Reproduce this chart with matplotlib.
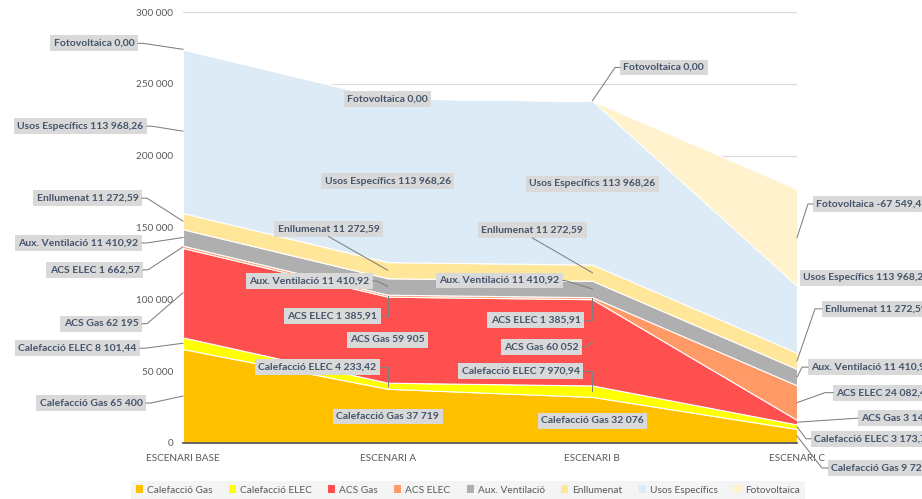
import numpy as np
import matplotlib
matplotlib.use("Agg")
import matplotlib.pyplot as plt
from matplotlib.lines import Line2D
from matplotlib.patches import Patch
from matplotlib.transforms import IdentityTransform

plt.rcParams['font.family'] = ['Lato', 'DejaVu Sans']

# data
scenarios = ['ESCENARI BASE', 'ESCENARI A', 'ESCENARI B', 'ESCENARI C']
series_names = ['Calefacció Gas', 'Calefacció ELEC', 'ACS Gas', 'ACS ELEC',
                'Aux. Ventilació', 'Enllumenat', 'Usos Específics', 'Fotovoltaica']
calef_gas = [65400, 37719, 32076, 9725]
calef_elec = [8101.44, 4233.42, 7970.94, 3173.70]
acs_gas = [62195, 59905, 60052, 3146]
acs_elec = [1662.57, 1385.91, 1385.91, 24082.41]
aux_vent = [11410.92, 11410.92, 11410.92, 11410.92]
enllumenat = [11272.59, 11272.59, 11272.59, 11272.59]
usos_esp = [113968.26, 113968.26, 113968.26, 113968.26]
fotovoltaica = [0.0, 0.0, 0.0, -67549.41]
decimals = [0, 2, 0, 2, 2, 2, 2, 2]

colors = ['#FFC000', '#FFFF00', '#FF5050', '#FF9966', '#AFAFAF',
          '#FFE699', '#DDEBF7', '#FFF2CC']

values = np.array([calef_gas, calef_elec, acs_gas, acs_elec, aux_vent,
                   enllumenat, usos_esp, fotovoltaica])
cum = np.cumsum(values, axis=0)


def fmt(v, dec):
    s = f"{v:,.{dec}f}"
    return s.replace(',', ' ').replace('.', ',')


fig = plt.figure(figsize=(9.22, 4.99), dpi=100)
ax = fig.add_axes([183 / 922, 1 - 443 / 499, (797 - 183) / 922, (443 - 12) / 499])

x = np.arange(len(scenarios))
for k in range(len(series_names)):
    lower = cum[k - 1] if k > 0 else np.zeros(len(x))
    ax.fill_between(x, lower, cum[k], facecolor=colors[k], edgecolor='white',
                    linewidth=0.8, zorder=2)

ax.set_xlim(0, 3)
ax.set_ylim(0, 300000)
ax.set_yticks(range(0, 300001, 50000))
ax.set_yticklabels([fmt(v, 0) for v in range(0, 300001, 50000)])
ax.set_xticks(x)
ax.set_xticklabels(scenarios)
ax.tick_params(axis='both', length=0, labelsize=7.2, labelcolor='#595959')
ax.tick_params(axis='y', pad=7)
ax.tick_params(axis='x', pad=8)
ax.yaxis.grid(True, color='#D9D9D9', linewidth=0.8)
ax.set_axisbelow(True)
for side in ['top', 'right', 'left']:
    ax.spines[side].set_visible(False)
ax.spines['bottom'].set_color('#595959')
ax.spines['bottom'].set_linewidth(1.3)
ax.spines['bottom'].set_zorder(4)

# label layout: (series, scenario, align, dx, dy, leader side, stub) in pixels, dy downwards
label_specs = [
    (7, 0, 'right', -45, -6, 'r', 5),
    (6, 0, 'right', -36, -5, 'r', 5),
    (5, 0, 'right', -41, -23, 'r', 5),
    (4, 0, 'right', -41, 5.5, 'r', 5),
    (3, 0, 'right', -40, 23, 'r', 5),
    (2, 0, 'right', -41, 31, 'r', 5),
    (1, 0, 'right', -43, 5, 'r', 5),
    (0, 0, 'right', -37, 7, 'r', 5),
    (7, 1, 'center', 0, 1, None, 0),
    (6, 1, 'center', 0, 1, None, 0),
    (5, 1, 'center', -59, -41.5, 'b', 0),
    (4, 1, 'right', -14.7, -5.5, 'r', 4),
    (3, 1, 'right', -6.7, 20.3, 'r', 'x'),
    (2, 1, 'center', 0, 0.3, None, 0),
    (1, 1, 'right', -7.7, -18.8, 'r', 'x'),
    (0, 1, 'center', 0, 0.6, None, 0),
    (7, 2, 'left', 27.7, -33.4, 'l', 5),
    (6, 2, 'center', 0, 1, None, 0),
    (5, 2, 'center', -60, -42.7, 'b', 0),
    (4, 2, 'right', -29.3, -8.5, 'r', 2),
    (3, 2, 'right', -8.3, 21.8, 'r', 'x'),
    (2, 2, 'right', -10.3, 4.7, 'r', 3),
    (1, 2, 'right', -9.3, -20.2, 'r', 'x'),
    (0, 2, 'center', 0, 1, None, 0),
    (7, 3, 'left', 16, -33.6, 'l', 5),
    (6, 3, 'left', 3, 7, None, 0),
    (5, 3, 'left', 25, -52, 'l', 7),
    (4, 3, 'left', 11, -10, 'l', 6),
    (3, 3, 'left', 36, -10, 'l', 8),
    (2, 3, 'left', 61, -4, 'l', 1),
    (1, 3, 'left', 14, 12, 'l', 5),
    (0, 3, 'left', 31, 32, 'l', 6),
]

label_size = 7.5
pad = 0.33
pad_px = pad * label_size * fig.dpi / 72

anns = []
for s, c, ha, dx, dy, side, stub in label_specs:
    lower = cum[s - 1][c] if s > 0 else 0.0
    mid = (lower + cum[s][c]) / 2
    text = f"{series_names[s]} {fmt(values[s][c], decimals[s])}"
    if ha == 'right':
        tx = dx - pad_px
    elif ha == 'left':
        tx = dx + pad_px
    else:
        tx = dx
    a = ax.annotate(text, xy=(c, mid), xycoords='data', xytext=(tx, -dy),
                    textcoords='offset pixels', ha=ha, va='center',
                    fontsize=label_size, fontweight='bold', color='#44546A',
                    bbox=dict(boxstyle=f'square,pad={pad}', fc='#D9D9D9', ec='none'),
                    annotation_clip=False, zorder=6)
    anns.append((a, c, mid, side, stub))

fig.canvas.draw()
renderer = fig.canvas.get_renderer()
for a, c, mid, side, stub in anns:
    if side is None:
        continue
    box = a.get_bbox_patch().get_window_extent(renderer)
    px, py = ax.transData.transform((c, mid))
    cy = (box.y0 + box.y1) / 2
    if side == 'b':
        xs = [(box.x0 + box.x1) / 2, px]
        ys = [box.y0, py]
    else:
        sx = box.x1 if side == 'r' else box.x0
        if stub == 'x':
            ex = px
        else:
            ex = sx + stub if side == 'r' else sx - stub
        xs = [sx, ex, px]
        ys = [cy, cy, py]
    fig.add_artist(Line2D(xs, ys, transform=IdentityTransform(),
                          color='#7F7F7F', linewidth=0.75, zorder=5))

handles = [Patch(facecolor=col, edgecolor='none') for col in colors]
leg = fig.legend(handles, series_names, loc='center', bbox_to_anchor=(468 / 922, 9 / 499),
                 ncol=8, fontsize=7.3, frameon=True, fancybox=False,
                 handlelength=0.7, handleheight=0.7, handletextpad=0.4,
                 columnspacing=1.6, borderpad=0.45)
leg.get_frame().set_facecolor('#F2F2F2')
leg.get_frame().set_linewidth(0)
for t in leg.get_texts():
    t.set_color('#595959')

fig.savefig('out.png', dpi=100)
